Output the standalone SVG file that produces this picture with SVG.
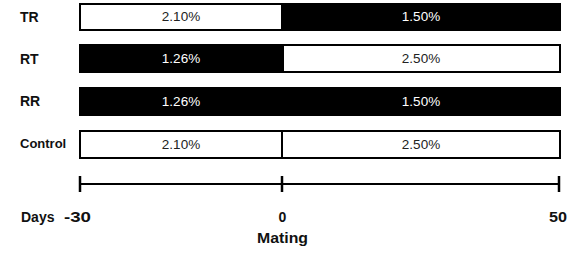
<svg xmlns="http://www.w3.org/2000/svg" width="571" height="255" viewBox="0 0 571 255">
<style>
.lbl{font-family:"Liberation Sans",Arial,sans-serif;font-weight:bold;font-size:14px;fill:#111}
.pct{font-family:"Liberation Sans",Arial,sans-serif;font-size:13.5px;text-anchor:middle}
.w{fill:#fff;stroke:#000;stroke-width:2}
.b{fill:#000;stroke:#000;stroke-width:2}
.dk{fill:#222}
.lt{fill:#fff}
.ax{stroke:#000;stroke-width:2;fill:none}
.tk{stroke:#000;stroke-width:2.5;fill:none}
</style>
<rect width="571" height="255" fill="#fff"/>
<g id="TR">
<text class="lbl" x="20" y="22">TR</text>
<rect class="w" x="80" y="4" width="202" height="26"/>
<rect class="b" x="282" y="4" width="278" height="26"/>
<text class="pct dk" x="181" y="21">2.10%</text>
<text class="pct lt" x="421" y="21">1.50%</text>
</g>
<g id="RT">
<text class="lbl" x="20" y="64">RT</text>
<rect class="b" x="80" y="45" width="202" height="27"/>
<rect class="w" x="283" y="45" width="277" height="27"/>
<text class="pct lt" x="181" y="63">1.26%</text>
<text class="pct dk" x="421" y="63">2.50%</text>
</g>
<g id="RR">
<text class="lbl" x="20" y="106">RR</text>
<rect class="b" x="80" y="88" width="480" height="27"/>
<text class="pct lt" x="181" y="105.5">1.26%</text>
<text class="pct lt" x="421" y="105.5">1.50%</text>
</g>
<g id="Control">
<text class="lbl" x="20" y="148" style="font-size:13px">Control</text>
<rect class="w" x="80" y="131" width="480" height="27"/>
<line class="ax" x1="282" y1="131" x2="282" y2="158"/>
<text class="pct dk" x="181" y="148.5">2.10%</text>
<text class="pct dk" x="421" y="148.5">2.50%</text>
</g>
<g id="axis">
<line class="ax" x1="79" y1="184" x2="560" y2="184"/>
<line class="tk" x1="80" y1="176" x2="80" y2="192"/>
<line class="tk" x1="282" y1="176" x2="282" y2="192"/>
<line class="tk" x1="559" y1="176" x2="559" y2="192"/>
<text class="lbl" x="21" y="222">Days</text>
<text class="lbl" x="64" y="222" textLength="27" lengthAdjust="spacingAndGlyphs">-30</text>
<text class="lbl" x="282.5" y="222" text-anchor="middle">0</text>
<text class="lbl" x="549" y="222" textLength="18" lengthAdjust="spacingAndGlyphs">50</text>
<text class="lbl" x="257" y="243" textLength="51" lengthAdjust="spacingAndGlyphs">Mating</text>
</g>
</svg>
